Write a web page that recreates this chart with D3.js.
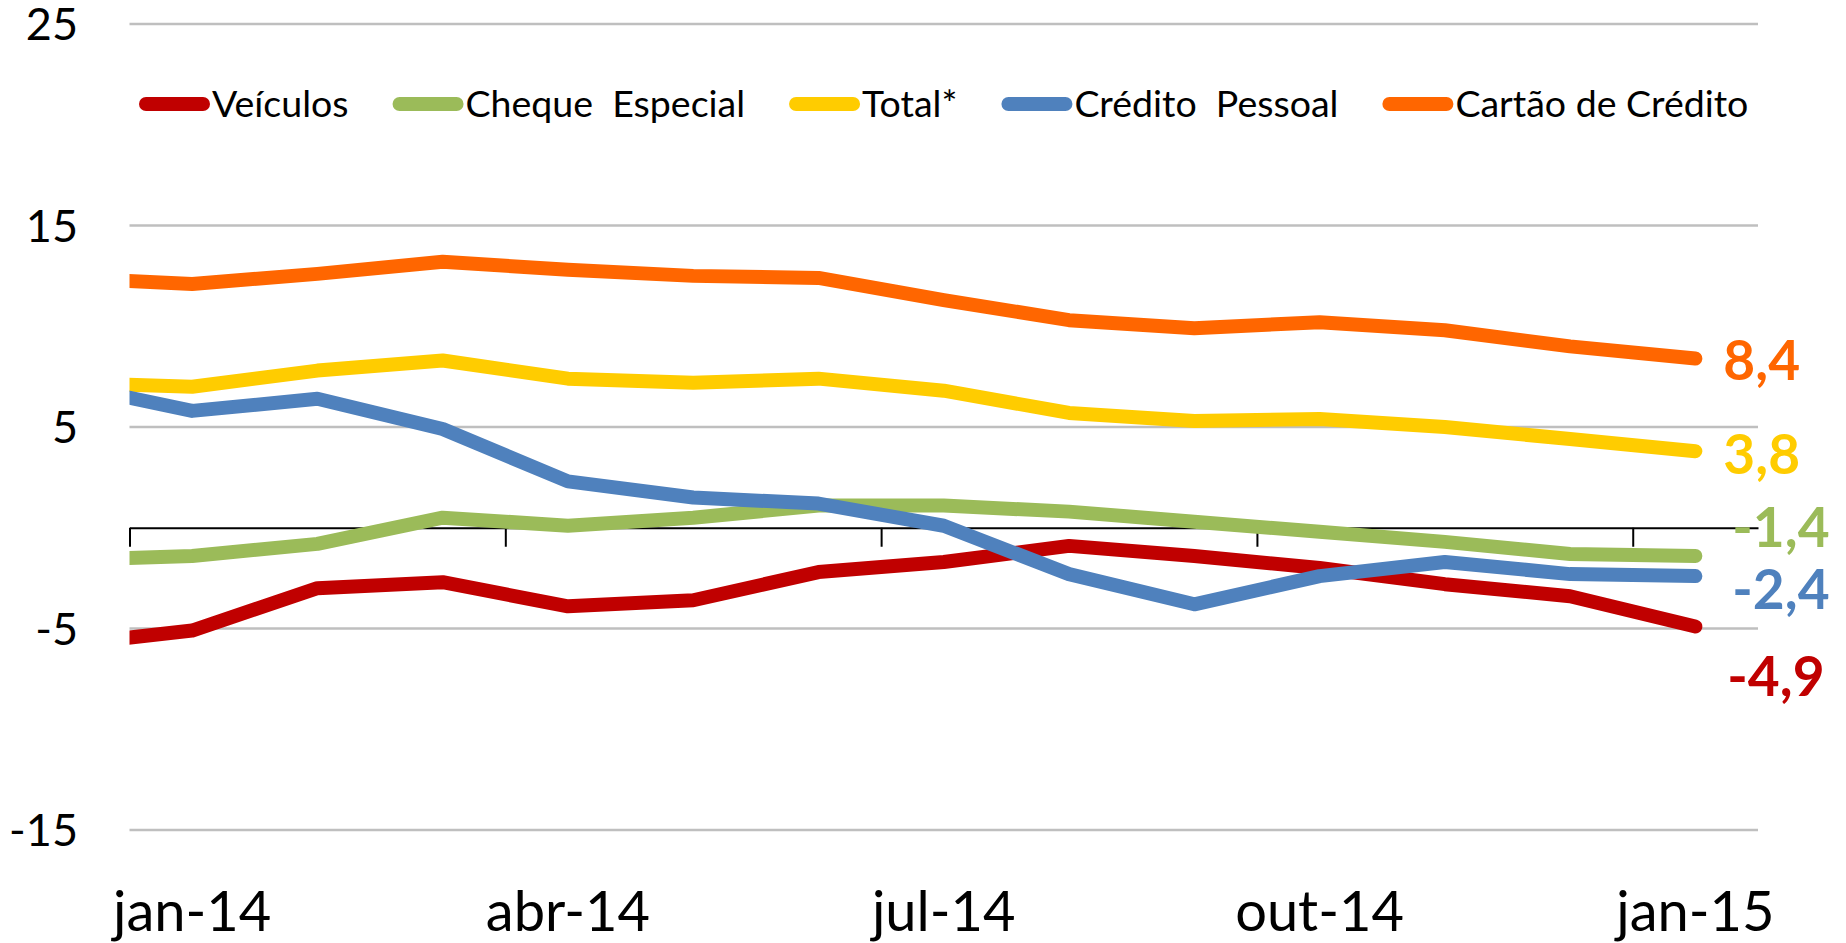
<!DOCTYPE html>
<html>
<head>
<meta charset="utf-8">
<script src="https://cdnjs.cloudflare.com/ajax/libs/d3/7.8.5/d3.min.js"></script>
<style>
  body { margin: 0; background: #fff; }
  svg { display: block; font-family: Lato, "Open Sans", sans-serif; }
  .grid line { stroke: #bfbfbf; stroke-width: 2.5; }
  .legend text { white-space: pre; }
</style>
</head>
<body>
<script>
// months (dez-13 is only there so the lines enter from the left edge)
var months = ["dez-13","jan-14","fev-14","mar-14","abr-14","mai-14","jun-14","jul-14","ago-14","set-14","out-14","nov-14","dez-14","jan-15"];
var tickLabels = ["jan-14","abr-14","jul-14","out-14","jan-15"];
var yTicks = [-15, -5, 5, 15, 25];

var seriesNames  = ["Veículos", "Cheque  Especial", "Total*", "Crédito  Pessoal", "Cartão de Crédito"];
var seriesColors = ["#c00000", "#9bbb59", "#ffcc00", "#4f81bd", "#ff6600"];

var veiculos = [-5.8, -5.1, -3.0, -2.7, -3.9, -3.6, -2.2, -1.7, -0.9, -1.4, -2.0, -2.8, -3.4, -4.9];
var cheque   = [-1.6, -1.4, -0.8,  0.5,  0.1,  0.5,  1.1,  1.1,  0.8,  0.3, -0.2, -0.7, -1.3, -1.4];
var total    = [ 7.2,  7.0,  7.8,  8.3,  7.4,  7.2,  7.4,  6.8,  5.7,  5.3,  5.4,  5.0,  4.4,  3.8];
var pessoal  = [ 7.1,  5.8,  6.4,  4.9,  2.3,  1.5,  1.2,  0.1, -2.3, -3.8, -2.4, -1.7, -2.3, -2.4];
var cartao   = [12.4, 12.1, 12.6, 13.2, 12.8, 12.5, 12.4, 11.3, 10.3,  9.9, 10.2,  9.8,  9.0,  8.4];

var seriesValues = [veiculos, cheque, total, pessoal, cartao];

var width = 1846, height = 943;
var plotLeft = 129.5, plotRight = 1758;
var lineWidth = 14;

// end label nudges (dx, dy) per series, same order as seriesNames
var labelNudge = [[32, 50], [37, -29], [28, 3], [37, 13], [28, 2]];

var svg = d3.select("body").append("svg")
    .attr("width", width)
    .attr("height", height);

// x: index on the month list, jan-14 is centred in the first slot
var xScale = d3.scaleLinear()
    .domain([0.5, months.length - 0.5])
    .range([plotLeft, plotRight]);

var yScale = d3.scaleLinear()
    .domain([-15, 25])
    .range([830, 24]);

// gridlines
var grid = svg.append("g").attr("class", "grid");
grid.selectAll("line")
    .data(yTicks)
    .enter()
    .append("line")
    .attr("x1", plotLeft)
    .attr("x2", plotRight)
    .attr("y1", function(d) { return yScale(d); })
    .attr("y2", function(d) { return yScale(d); });

// y labels
svg.append("g")
    .selectAll("text")
    .data(yTicks)
    .enter()
    .append("text")
    .attr("x", 78)
    .attr("y", function(d) { return yScale(d); })
    .attr("dy", "0.36em")
    .attr("text-anchor", "end")
    .attr("font-size", 45)
    .attr("fill", "#000")
    .text(function(d) { return d; });

// category axis at zero: tick marks between months (drawn under the lines)
var tickIdx = tickLabels.map(function(t) { return months.indexOf(t); });

var axisG = svg.append("g")
    .attr("transform", "translate(0," + yScale(0) + ")");

axisG.call(d3.axisBottom(xScale)
        .tickValues(tickIdx.map(function(i) { return i - 0.5; }))
        .tickSize(19)
        .tickSizeOuter(0)
        .tickFormat(""));
axisG.select(".domain").attr("stroke", "#000").attr("stroke-width", 2);
axisG.selectAll(".tick line").attr("stroke", "#000").attr("stroke-width", 2);

// lines, clipped at the plot's left edge
svg.append("clipPath")
    .attr("id", "plotClip")
    .append("rect")
    .attr("x", plotLeft)
    .attr("y", 0)
    .attr("width", width - plotLeft)
    .attr("height", height);

var line = d3.line()
    .x(function(d, i) { return xScale(i); })
    .y(function(d) { return yScale(d); });

svg.append("g")
    .attr("clip-path", "url(#plotClip)")
    .selectAll("path")
    .data(seriesValues)
    .enter()
    .append("path")
    .attr("d", line)
    .attr("fill", "none")
    .attr("stroke", function(d, i) { return seriesColors[i]; })
    .attr("stroke-width", lineWidth)
    .attr("stroke-linejoin", "round")
    .attr("stroke-linecap", "round");

// month labels
svg.append("g")
    .selectAll("text")
    .data(tickLabels)
    .enter()
    .append("text")
    .attr("x", function(d) { return xScale(months.indexOf(d)); })
    .attr("y", 931)
    .attr("text-anchor", "middle")
    .attr("font-size", 56)
    .attr("fill", "#000")
    .text(function(d) { return d; });

// end-value labels
var last = months.length - 1;
svg.append("g")
    .selectAll("text")
    .data(seriesValues)
    .enter()
    .append("text")
    .attr("x", function(d, i) { return xScale(last) + labelNudge[i][0]; })
    .attr("y", function(d, i) { return yScale(d[last]) + labelNudge[i][1]; })
    .attr("dy", "0.36em")
    .attr("font-size", 55)
    .attr("font-weight", "bold")
    .attr("fill", function(d, i) { return seriesColors[i]; })
    .text(function(d) { return d[last].toFixed(1).replace(".", ","); });

// legend
var legend = svg.append("g").attr("class", "legend");
var legendX = 139, legendY = 104;
seriesNames.forEach(function(name, i) {
    var item = legend.append("g").attr("transform", "translate(" + legendX + "," + legendY + ")");
    item.append("line")
        .attr("x1", lineWidth / 2)
        .attr("x2", 71 - lineWidth / 2)
        .attr("y1", 0)
        .attr("y2", 0)
        .attr("stroke", seriesColors[i])
        .attr("stroke-width", lineWidth)
        .attr("stroke-linecap", "round");
    var txt = item.append("text")
        .attr("x", 73)
        .attr("y", 13)
        .attr("font-size", 37.5)
        .attr("fill", "#000")
        .text(name);
    legendX += 73 + txt.node().getComputedTextLength() + 44;
});
</script>
</body>
</html>
